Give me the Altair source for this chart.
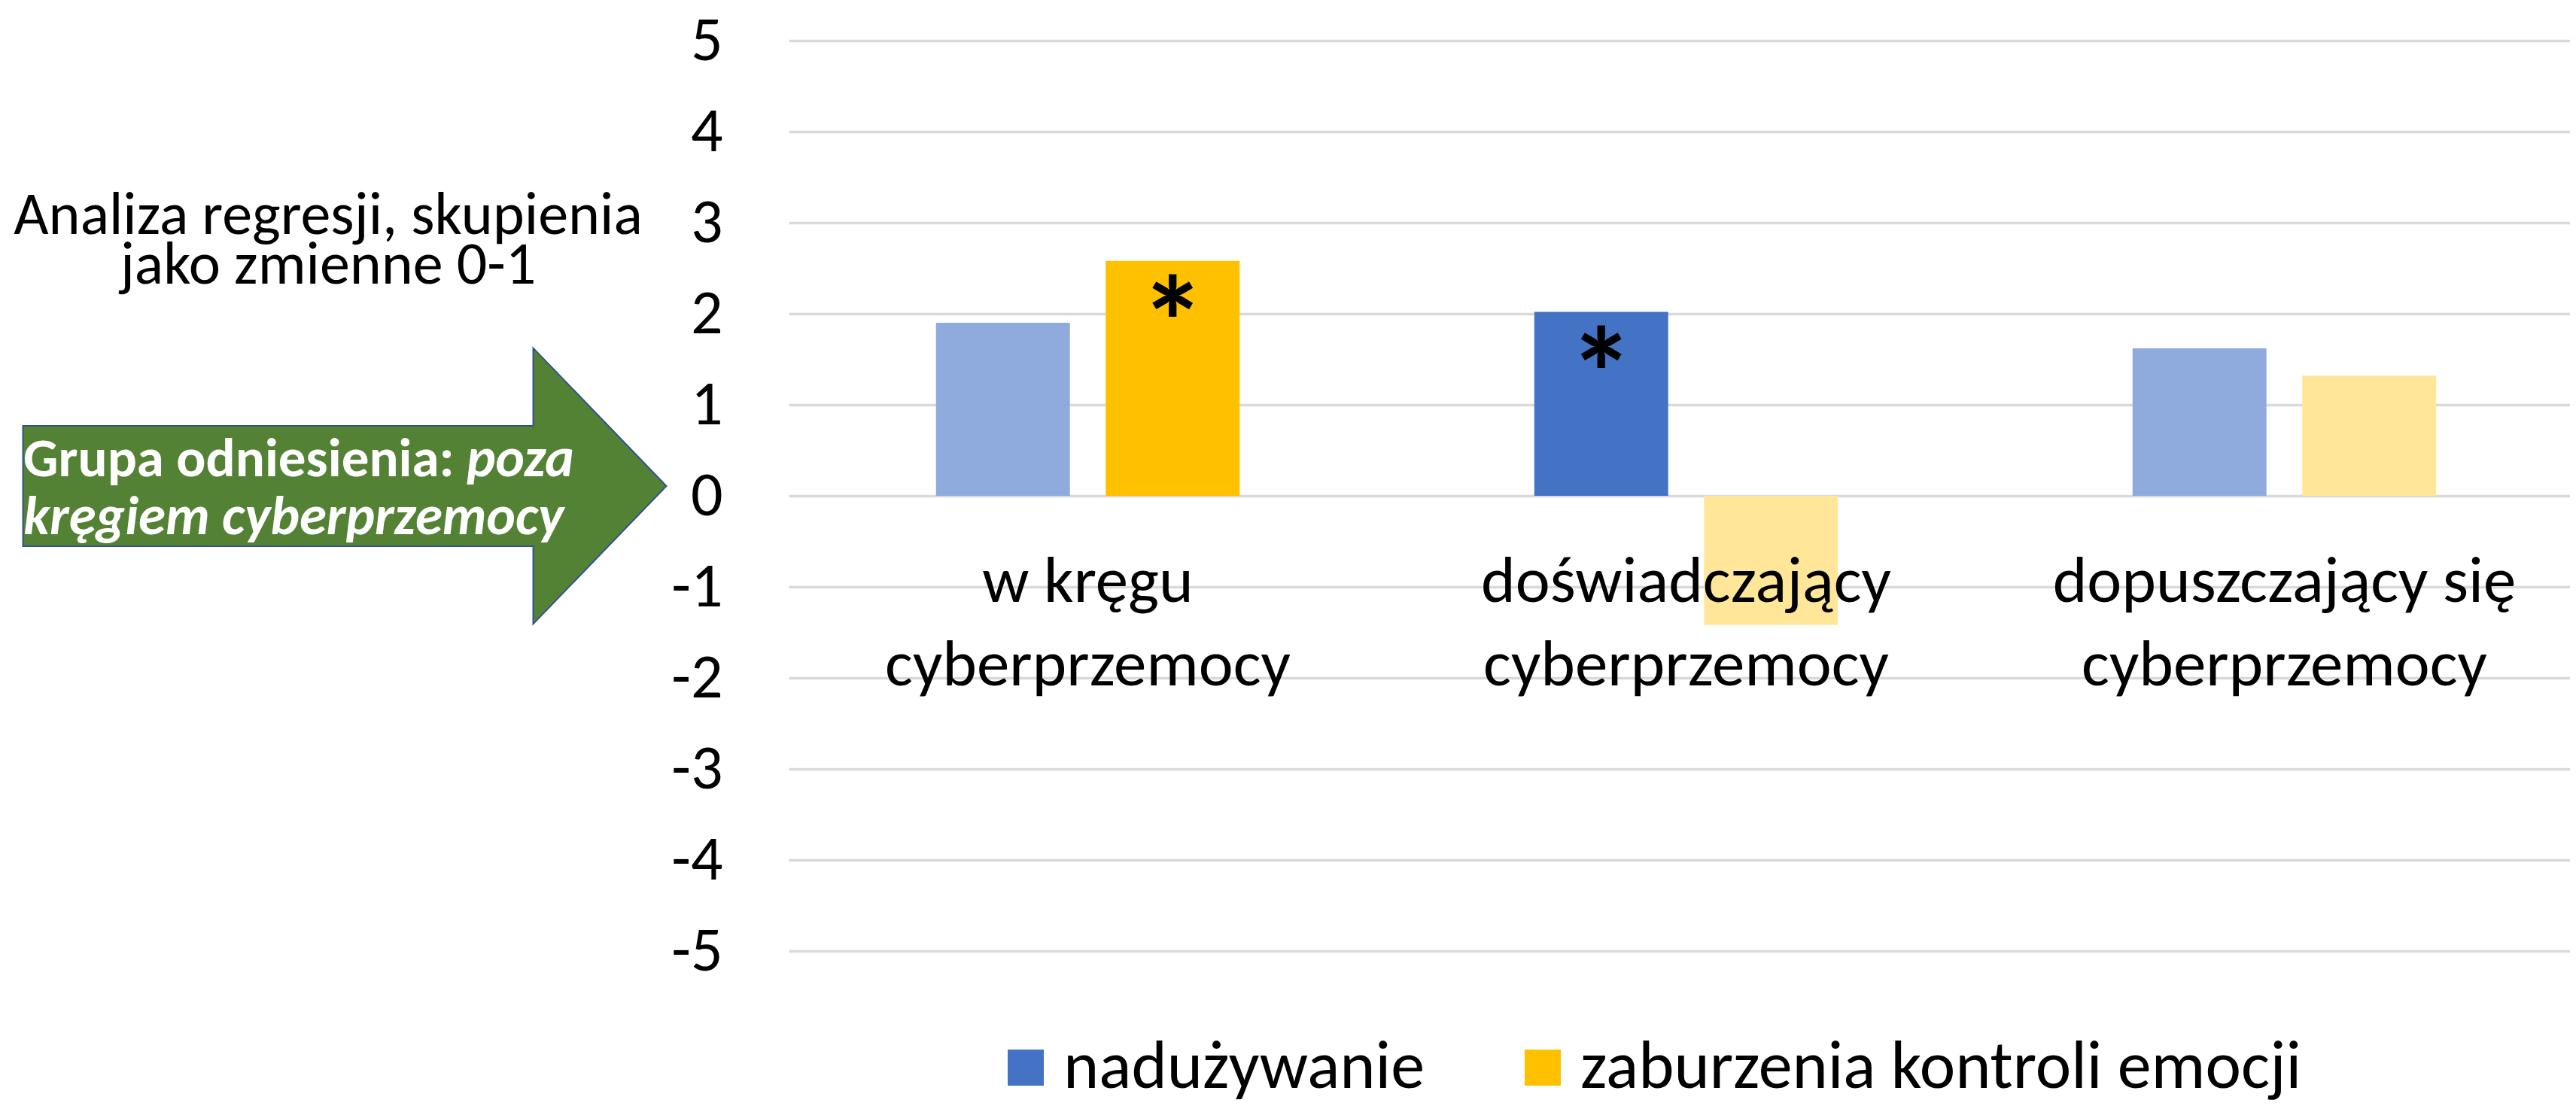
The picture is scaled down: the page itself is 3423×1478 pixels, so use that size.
import altair as alt
import pandas as pd

# ---------------- data ----------------
kategorie = [
    "w kręgu\ncyberprzemocy",
    "doświadczający\ncyberprzemocy",
    "dopuszczający się\ncyberprzemocy",
]
serie = ["nadużywanie", "zaburzenia kontroli emocji"]
naduzywanie = [1.90, 2.02, 1.62]
zaburzenia_kontroli_emocji = [2.58, -1.42, 1.32]
istotne_naduzywanie = [0, 1, 0]          # 1 = significant, marked with *
istotne_zaburzenia = [1, 0, 0]
y_ticks = [-5, -4, -3, -2, -1, 0, 1, 2, 3, 4, 5]

tytul_linie = ["Analiza regresji, skupienia", "jako zmienne 0-1"]
strzalka_l1 = "Grupa odniesienia:"
strzalka_l1_kursywa = "poza"
strzalka_l2 = "kręgiem cyberprzemocy"

rows = []
for i, k in enumerate(kategorie):
    rows.append(dict(kategoria=k, seria=serie[0], wartosc=naduzywanie[i], istotne=istotne_naduzywanie[i]))
    rows.append(dict(kategoria=k, seria=serie[1], wartosc=zaburzenia_kontroli_emocji[i], istotne=istotne_zaburzenia[i]))
df = pd.DataFrame(rows)

# ---------------- styles ----------------
kolory_pelne = ["#4472C4", "#FFC000"]
kolory_jasne = ["#8FAADC", "#FFE699"]
klucze_jasne = [s + " (ns)" for s in serie]

W, H = 2367, 1210
FONT = "Carlito, Calibri, Lato"
ZERO_FROM_BOTTOM = 605

x_enc = alt.X(
    "kategoria:N",
    sort=kategorie,
    scale=alt.Scale(range=[0, 2385], paddingInner=0, paddingOuter=0),
    axis=alt.Axis(
        orient="bottom", offset=-ZERO_FROM_BOTTOM, title=None, domain=False, ticks=False,
        grid=False, labelAngle=0, labelFont=FONT, labelFontSize=87, labelColor="black",
        labelBaseline="alphabetic", labelPadding=140, labelLineHeight=111,
        labelExpr="split(datum.label, '\\n')", labelLimit=0, labelOverlap=False, zindex=1,
    ),
)
xo_enc = alt.XOffset("seria:N", sort=serie, scale=alt.Scale(paddingInner=0.211, paddingOuter=0.868))
y_enc = alt.Y(
    "wartosc:Q",
    scale=alt.Scale(domain=[-5, 5], nice=False),
    axis=alt.Axis(
        values=y_ticks, title=None, domain=False, ticks=False, labelFont=FONT,
        labelFontSize=84, labelColor="black", labelPadding=88, labelBaseline="middle",
        labelExpr="'' + datum.value", gridColor="#D9D9D9", gridWidth=3.5,
    ),
)
color_enc = alt.Color(
    "kolor:N",
    scale=alt.Scale(domain=serie + klucze_jasne, range=kolory_pelne + kolory_jasne),
    legend=alt.Legend(
        values=serie,
        orient="none", legendX=270, legendY=1320, direction="horizontal", title=None,
        symbolType="square", symbolSize=2304, symbolStrokeWidth=0, symbolOpacity=1,
        labelFont=FONT, labelFontSize=90, labelColor="black", labelOffset=5,
        columnPadding=112, labelLimit=0,
    ),
)

base = alt.Chart(df)
bars = base.transform_calculate(
    kolor="datum.istotne == 1 ? datum.seria : datum.seria + ' (ns)'"
).mark_bar().encode(x=x_enc, xOffset=xo_enc, y=y_enc, color=color_enc)

stars = base.transform_filter("datum.istotne == 1").mark_text(
    text="*", font=FONT, fontWeight="bold", fontSize=174, baseline="alphabetic", dy=142, color="black"
).encode(x=x_enc, xOffset=xo_enc, y=y_enc)

def txt(s, x, y, size, align="center", weight="normal", style="normal", color="black"):
    return alt.Chart(pd.DataFrame({"t": [s]})).mark_text(
        font=FONT, fontSize=size, align=align, baseline="alphabetic",
        fontWeight=weight, fontStyle=style, color=color,
    ).encode(text="t:N", x=alt.value(x), y=alt.value(y))

title1 = txt(tytul_linie[0], -612, 257, 80)
title2 = txt(tytul_linie[1], -612, 323, 80)

arrow_path = "M -1 -0.187 L 0.586 -0.187 L 0.586 -0.429 L 1 0 L 0.586 0.429 L 0.586 0.187 L -1 0.187 Z"
arrow = alt.Chart(pd.DataFrame({"a": [0]})).mark_point(
    shape=arrow_path, size=855 * 855, filled=True, fill="#548235", stroke="#2F528F",
    strokeWidth=2, opacity=1,
).encode(x=alt.value(-590), y=alt.value(592))

a1 = txt(strzalka_l1, -1017, 579, 73, align="left", weight="bold", color="white")
a1b = txt(strzalka_l1_kursywa, -428, 579, 73, align="left", weight="bold", style="italic", color="white")
a2 = txt(strzalka_l2, -1017, 656, 73, align="left", weight="bold", style="italic", color="white")

chart = alt.layer(bars, stars, arrow, title1, title2, a1, a1b, a2).properties(
    width=W, height=H,
    autosize=alt.AutoSizeParams(type="none"),
    padding={"left": 1040, "top": 46, "right": 0, "bottom": 206},
    background="white",
).configure_view(stroke=None)

chart.save("out.html", embed_options={"renderer": "svg", "actions": False})
